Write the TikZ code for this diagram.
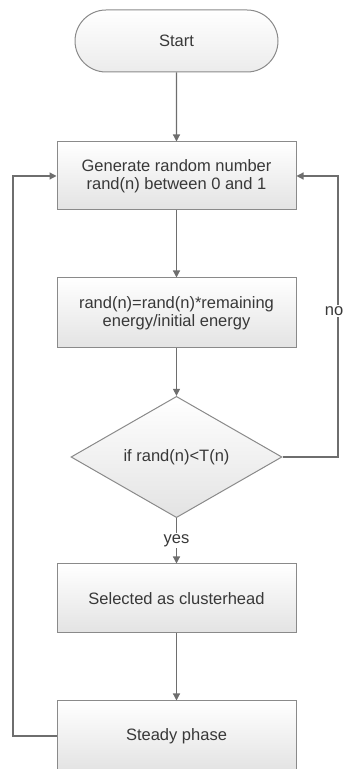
\documentclass[tikz,border=0pt]{standalone}
\usepackage{fontspec}
\setmainfont{Liberation Sans}
\usetikzlibrary{shapes.geometric,shapes.misc,arrows.meta}
\definecolor{boxline}{HTML}{8A8A8A}
\definecolor{conn}{HTML}{6E6E6E}
\definecolor{txt}{HTML}{383838}
\definecolor{boxlow}{HTML}{E3E3E3}
\begin{document}
\begin{tikzpicture}[x=1pt,y=1pt,
  every node/.style={font=\fontsize{16.5}{18}\selectfont, text=txt},
  procbox/.style={draw=boxline, line width=1pt, top color=white, bottom color=boxlow,
    rectangle, minimum width=239pt, inner sep=0pt, align=center},
  termbox/.style={draw=boxline, line width=1pt, top color=white, bottom color=boxlow!70!white,
    rounded rectangle, minimum width=203pt, minimum height=62pt, inner sep=0pt},
  decbox/.style={draw=boxline, line width=1pt, top color=white, bottom color=boxlow,
    diamond, minimum width=211pt, minimum height=81pt, inner sep=0pt},
  conline/.style={draw=conn, line width=1.2pt},
  arr/.style={conline, -{Triangle[length=7pt,width=7pt]}},
  lbl/.style={fill=white, inner sep=1.5pt}
]
\useasboundingbox (0,0) rectangle (343,769);
\node[termbox] (start) at (176.5,728) {Start};
\node[procbox, minimum height=68pt] (gen) at (176.5,593) {Generate random number\\rand(n) between 0 and 1};
\node[procbox, minimum height=70pt] (rnd) at (176.5,456) {rand(n)=rand(n)*remaining\\energy/initial energy};
\node[decbox] (dec) at (176.5,312) {if rand(n)<T(n)};
\node[procbox, minimum height=69pt] (sel) at (176.5,170.5) {Selected as clusterhead};
\node[procbox, minimum height=70pt] (std) at (176.5,33) {Steady phase};
\coordinate (rtop) at (338,593);
\coordinate (rbot) at (338,312);
\coordinate (ltop) at (13,593);
\coordinate (lbot) at (13,33);
\draw[arr] (start) -- (gen);
\draw[arr] (gen) -- (rnd);
\draw[arr] (rnd) -- (dec);
\draw[arr] (dec) -- node[lbl] {yes} (sel);
\draw[arr] (sel) -- (std);
\draw[arr] (dec.east) -- (rbot) -- node[lbl, pos=0.52, xshift=-4pt] {no} (rtop) -- (gen.east);
\draw[arr] (std.west) -- (lbot) -- (ltop) -- (gen.west);
\end{tikzpicture}
\end{document}
